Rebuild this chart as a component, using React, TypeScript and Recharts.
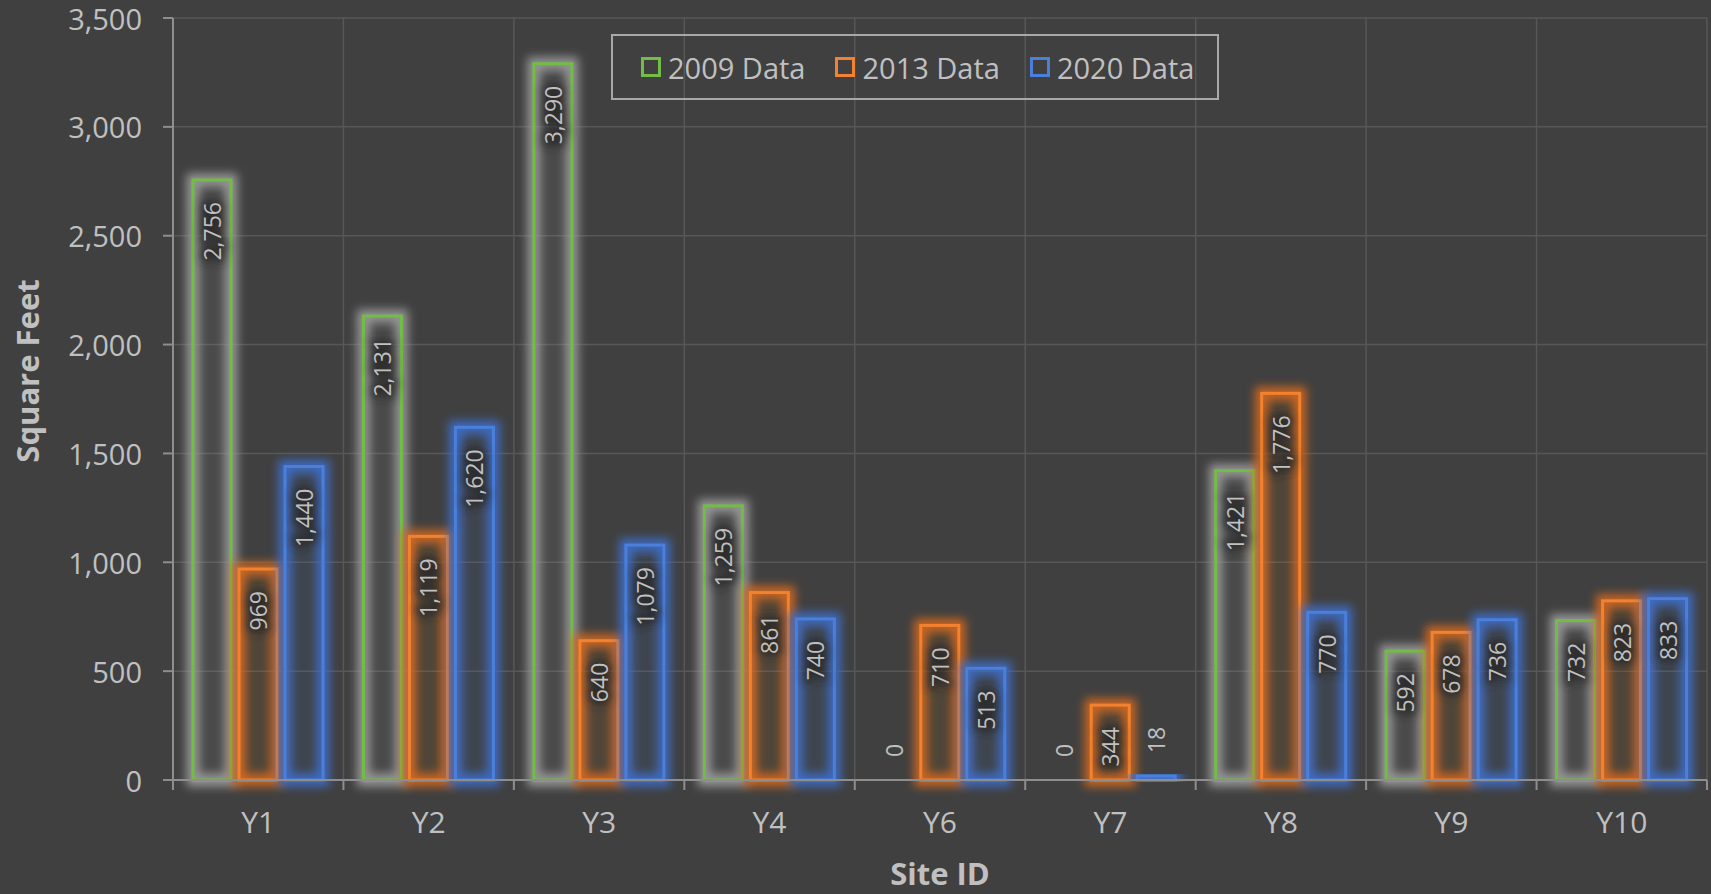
import React from 'react';
import { BarChart, Bar, XAxis, YAxis, CartesianGrid, Legend, LabelList } from 'recharts';

const categories = ['Y1', 'Y2', 'Y3', 'Y4', 'Y6', 'Y7', 'Y8', 'Y9', 'Y10'];
const data2009 = [2756, 2131, 3290, 1259, 0, 0, 1421, 592, 732];
const data2013 = [969, 1119, 640, 861, 710, 344, 1776, 678, 823];
const data2020 = [1440, 1620, 1079, 740, 513, 18, 770, 736, 833];
const yTicks = [0, 500, 1000, 1500, 2000, 2500, 3000, 3500];
const seriesNames = ['2009 Data', '2013 Data', '2020 Data'];
const seriesKeys = ['d2009', 'd2013', 'd2020'];
const seriesColors = ['#72bd45', '#f2822f', '#4a7fdb'];
const glowColors = ['#a0a0a0', '#d8691d', '#3f6fcc'];

const data = categories.map((c, i) => ({
  site: c,
  d2009: data2009[i],
  d2013: data2013[i],
  d2020: data2020[i],
}));

const W = 1711;
const H = 894;
const Y_AXIS_W = 173;
const MARGIN = { top: 18, right: 4, left: 0, bottom: 0 };
const X_AXIS_H = 114;
const PLOT_W = W - Y_AXIS_W - MARGIN.right;
const BAND = PLOT_W / categories.length;

const BG = '#404040';
const GRID = '#575757';
const AXIS = '#8e8e8e';
const TEXT = '#c0c0c0';
const FONT = '"Open Sans", "Noto Sans", sans-serif';

const makeShape = (idx: number) => (props: any) => {
  const { x, y, width, height } = props;
  if (!height || height <= 0.5) return <g />;
  return (
    <g>
      <rect
        x={x}
        y={y}
        width={width}
        height={height}
        fill={glowColors[idx]}
        fillOpacity={0.1}
        stroke={glowColors[idx]}
        strokeWidth={13}
        strokeOpacity={0.9}
        filter="url(#barGlow)"
      />
      <rect x={x} y={y} width={width} height={height} fill="none" stroke={seriesColors[idx]} strokeWidth={3} />
    </g>
  );
};

const renderLabel = (props: any) => {
  const { x, y, width, height, value } = props;
  const cx = Number(x) + Number(width) / 2;
  const text = Number(value).toLocaleString('en-US');
  const est = text.length * 13;
  const h = Number(height) || 0;
  const inside = h > est + 30;
  const ay = inside ? Number(y) + 22 : Number(y) - 23;
  const common = {
    x: cx,
    y: ay,
    transform: `rotate(-90 ${cx} ${ay})`,
    textAnchor: (inside ? 'end' : 'start') as any,
    dominantBaseline: 'central' as any,
    fontSize: 23,
    fontFamily: FONT,
  };
  return (
    <g>
      {inside && (
        <text {...common} fill="#262626" stroke="#262626" strokeWidth={7} opacity={0.8} filter="url(#textShadow)">
          {text}
        </text>
      )}
      <text {...common} fill={TEXT}>
        {text}
      </text>
    </g>
  );
};

const XTick = (props: any) => {
  const { x, y, payload, index } = props;
  const last = index === categories.length - 1;
  return (
    <g>
      <line x1={x - BAND / 2} x2={x - BAND / 2} y1={y} y2={y + 10} stroke={AXIS} strokeWidth={2} />
      {last && <line x1={x + BAND / 2} x2={x + BAND / 2} y1={y} y2={y + 10} stroke={AXIS} strokeWidth={2} />}
      <text x={x} y={y + 53} textAnchor="middle" fill={TEXT} fontSize={30} fontFamily={FONT}>
        {payload.value}
      </text>
      {index === 4 && (
        <text x={x} y={y + 105} textAnchor="middle" fill={TEXT} fontSize={31} fontWeight="bold" fontFamily={FONT}>
          Site ID
        </text>
      )}
    </g>
  );
};

const YTick = (props: any) => {
  const { x, y, payload } = props;
  return (
    <text x={x} y={y} textAnchor="end" dominantBaseline="central" fill={TEXT} fontSize={29} fontFamily={FONT}>
      {Number(payload.value).toLocaleString('en-US')}
    </text>
  );
};

const YLabel = () => (
  <text
    x={27}
    y={371}
    transform="rotate(-90 27 371)"
    textAnchor="middle"
    dominantBaseline="central"
    fill={TEXT}
    fontSize={31}
    fontWeight="bold"
    fontFamily={FONT}
  >
    Square Feet
  </text>
);

const LegendBox = () => (
  <div
    style={{
      width: 608,
      height: 66,
      boxSizing: 'border-box',
      border: '2px solid #a8a8a8',
      display: 'flex',
      alignItems: 'center',
      paddingLeft: 28,
      fontFamily: FONT,
      fontSize: 29,
      color: TEXT,
      whiteSpace: 'nowrap',
    }}
  >
    {seriesNames.map((n, i) => (
      <div key={n} style={{ display: 'flex', alignItems: 'center', marginRight: 30, flexShrink: 0 }}>
        <div
          style={{
            width: 20,
            height: 20,
            boxSizing: 'border-box',
            border: `3px solid ${seriesColors[i]}`,
            marginRight: 7,
          }}
        />
        <span style={{ lineHeight: 1 }}>{n}</span>
      </div>
    ))}
  </div>
);

export default function App() {
  return (
    <div style={{ position: 'absolute', left: 0, top: 0, width: W, height: H, background: BG, overflow: 'hidden' }}>
      <svg width={0} height={0} style={{ position: 'absolute' }}>
        <defs>
          <filter id="barGlow" x="-50%" y="-50%" width="200%" height="200%">
            <feGaussianBlur stdDeviation={5} />
          </filter>
          <filter id="textShadow" x="-50%" y="-50%" width="200%" height="200%">
            <feGaussianBlur stdDeviation={4} />
          </filter>
        </defs>
      </svg>
      <BarChart width={W} height={H} data={data} margin={MARGIN} barCategoryGap={20} barGap={8}>
        <CartesianGrid
          stroke={GRID}
          strokeWidth={1.5}
          verticalCoordinatesGenerator={(p: any) => {
            const off = p.offset || {};
            const left = off.left ?? Y_AXIS_W;
            const width = off.width ?? PLOT_W;
            return categories.map((_, k) => left + (k * width) / categories.length).concat([left + width]);
          }}
        />
        <XAxis
          dataKey="site"
          height={X_AXIS_H}
          interval={0}
          tickLine={false}
          tickSize={0}
          tickMargin={0}
          axisLine={{ stroke: AXIS, strokeWidth: 2 }}
          tick={<XTick />}
        />
        <YAxis
          width={Y_AXIS_W}
          domain={[0, 3500]}
          ticks={yTicks}
          interval={0}
          tickSize={10}
          tickMargin={21}
          tickLine={{ stroke: AXIS, strokeWidth: 2 }}
          axisLine={{ stroke: AXIS, strokeWidth: 2 }}
          tick={<YTick />}
          label={<YLabel />}
        />
        <Legend
          layout="horizontal"
          verticalAlign="middle"
          align="center"
          wrapperStyle={{ position: 'absolute', left: 611, top: 34, width: 608, height: 66 }}
          content={() => <LegendBox />}
        />
        {seriesKeys.map((k, i) => (
          <Bar key={k} dataKey={k} name={seriesNames[i]} isAnimationActive={false} shape={makeShape(i)}>
            <LabelList dataKey={k} content={renderLabel} />
          </Bar>
        ))}
      </BarChart>
    </div>
  );
}
